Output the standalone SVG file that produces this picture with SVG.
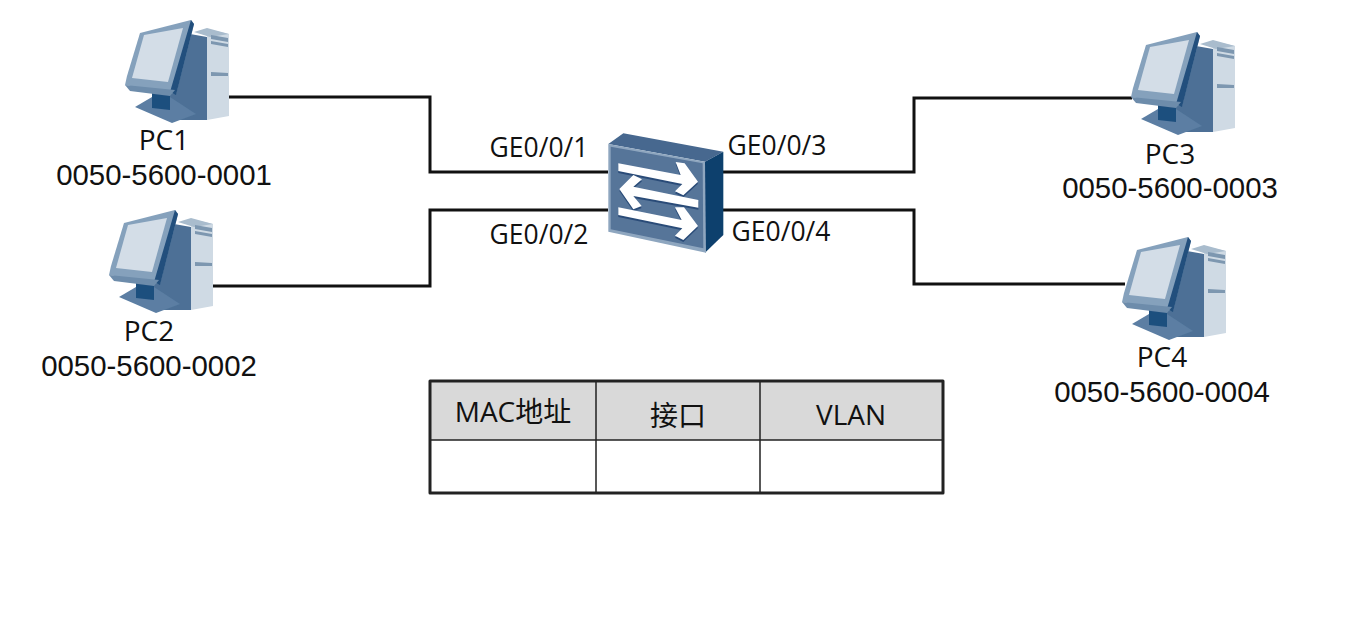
<svg xmlns="http://www.w3.org/2000/svg" width="1355" height="634" viewBox="0 0 1355 634">
<style>
text{font-family:"Open Sans","Noto Sans CJK SC",sans-serif;fill:#111;text-anchor:middle}
.n{font-size:28px}.m{font-size:29.4px;font-family:"Liberation Sans",sans-serif}.p{font-size:26.5px}.t{font-size:28px}
.w{fill:none;stroke:#111;stroke-width:3}
.a{fill:#fff}.s{fill:#2a4c78}
</style>
<defs>
<filter id="b" x="-5%" y="-5%" width="110%" height="110%"><feGaussianBlur stdDeviation="0.6"/></filter>
<symbol id="pc" overflow="visible">
<g filter="url(#b)">
<polygon points="97,19 119,24 119,106 97,110" fill="#cfdae4"/>
<polygon points="84,22 97,18 119,24 100,27" fill="#a9bccd"/>
<polygon points="80,24 97,27 97,110 62,110 55,92" fill="#4d7096"/>
<polygon points="101,25 118,28 118,32 101,29" fill="#7d97b0"/>
<polygon points="101,31 118,34 118,37 101,34" fill="#7d97b0"/>
<polygon points="101,62 118,63 118,66 101,66" fill="#7d97b0"/>
<polygon points="25,97 42,87 60,87 86,104 62,113" fill="#5b7ea3"/>
<polygon points="42,82 60,82 60,100 42,98" fill="#1f4f7e"/>
<polygon points="30,23 81,10 84,14 66,84 15,75 17,66" fill="#85a1bc"/>
<polygon points="81,10 84,14 66,85 60,82" fill="#234f7d"/>
<polygon points="15,75 65,80 60,86 20,81" fill="#6d8cab"/>
<polygon points="34,25 73,18 58,72 22,68" fill="#d3dde7"/>
</g>
</symbol>
<g id="ar">
<polygon points="85,130 272,165 257,126 284,130 324,185 280,226 255,214 277,192 85,153"/>
<polygon points="88,207 130,165 156,178 130,200 325,240 325,263 130,228 155,258 130,268"/>
<polygon points="85,262 275,300 255,262 282,262 324,318 280,360 255,347 277,325 85,285"/>
</g>
</defs>
<rect width="1355" height="634" fill="#fff"/>
<g id="connectors">
<polyline class="w" points="228,97 430,97 430,172 608,172"/>
<polyline class="w" points="212,286 430,286 430,210 608,210"/>
<polyline class="w" points="722,172 914,172 914,98 1132,98"/>
<polyline class="w" points="722,210 914,210 914,284 1125,284"/>
</g>
<g id="pc1"><use href="#pc" x="110" y="10"/><text class="n" x="164" y="150">PC1</text><text class="m" x="164" y="185">0050-5600-0001</text></g>
<g id="pc2"><use href="#pc" x="94" y="200"/><text class="n" x="149" y="341">PC2</text><text class="m" x="149" y="376">0050-5600-0002</text></g>
<g id="pc3"><use href="#pc" x="1116" y="22"/><text class="n" x="1170" y="164">PC3</text><text class="m" x="1170" y="198">0050-5600-0003</text></g>
<g id="pc4"><use href="#pc" x="1107" y="227"/><text class="n" x="1162" y="367">PC4</text><text class="m" x="1162" y="402">0050-5600-0004</text></g>
<g id="switch">
<g transform="translate(590 120) scale(.3333)" filter="url(#b)">
<polygon points="55,72 100,40 400,95 345,125" fill="#46688f"/>
<polygon points="345,125 400,95 400,345 345,398" fill="#103f6d"/>
<polygon points="55,72 345,125 348,398 55,335" fill="#8ea6bf"/>
<polygon points="62,80 338,130 340,385 62,328" fill="#567499"/>
<use href="#ar" class="s" y="6"/>
<use href="#ar" class="a"/>
</g>
</g>
<g id="ports">
<text class="p" x="539" y="157">GE0/0/1</text>
<text class="p" x="539" y="244">GE0/0/2</text>
<text class="p" x="777" y="155">GE0/0/3</text>
<text class="p" x="781" y="241">GE0/0/4</text>
</g>
<g id="table">
<rect x="430" y="381" width="513" height="59" fill="#d9d9d9"/>
<path d="M430 440H943M596 381V493M760 381V493" fill="none" stroke="#222" stroke-width="1.5"/>
<rect x="430" y="381" width="513" height="112" fill="none" stroke="#222" stroke-width="3" stroke-linejoin="round"/>
<text class="t" x="513" y="422">MAC地址</text>
<text class="t" x="678" y="426">接口</text>
<text class="t" x="851" y="425">VLAN</text>
</g>
</svg>
